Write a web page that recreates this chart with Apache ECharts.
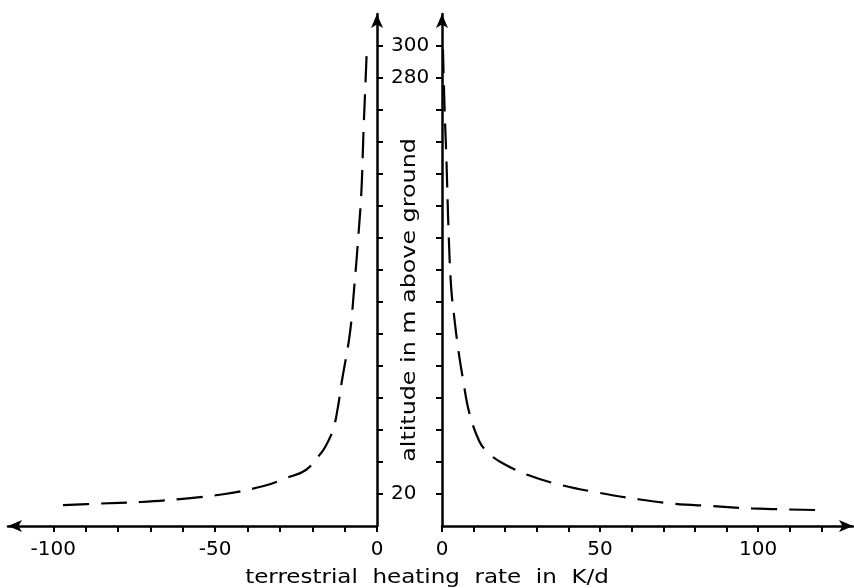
<!DOCTYPE html>
<html>
<head>
<meta charset="utf-8">
<script src="https://cdn.jsdelivr.net/npm/echarts@6/dist/echarts.min.js"></script>
<style>html,body{margin:0;padding:0;background:#fff}#c{width:854px;height:588px}</style>
</head>
<body>
<div id="c"></div>
<script>
// Left panel (negative heating rates)
const leftRate = [-97, -86, -73, -60, -47, -35, -28, -22, -17.5, -16.1, -13.6, -12.1, -10.9, -8.4, -7, -5.8, -4.8, -4.2, -3.6, -3.1];
const leftAlt  = [13, 14, 15, 17, 20, 25, 30, 35, 45, 49, 60, 74, 90, 120, 150, 180, 210, 245, 275, 300];
// Right panel (positive heating rates)
const rightRate = [118, 98, 85, 73, 62, 49, 37.5, 27, 18.5, 14.5, 11.8, 8.6, 6.7, 5.1, 3.9, 2.9, 2.1, 1.4, 0.8, 0.3];
const rightAlt  = [10, 11, 12.5, 14, 16.7, 21, 25.7, 32, 40, 46, 53, 71, 91, 111, 130, 149, 183, 229, 262, 298];
// Ticks and labels
const leftXTicks = [-100, -90, -80, -70, -60, -50, -40, -30, -20, -10, 0];
const leftXLabels = [-100, -50, 0];
const rightXTicks = [0, 10, 20, 30, 40, 50, 60, 70, 80, 90, 100, 110, 120];
const rightXLabels = [0, 50, 100];
const yTicks = [20, 40, 60, 80, 100, 120, 140, 160, 180, 200, 220, 240, 260, 280, 300];
const yLabels = [20, 280, 300];
const xTitle = 'terrestrial  heating  rate  in  K/d';
const yTitle = 'altitude in m above ground';

const FONT = 'DejaVu Sans';
const axisLine = (sym) => ({ show: true, onZero: false, symbol: sym, symbolSize: [9, 14], lineStyle: { color: '#000', width: 2.5 } });
const tick = (vals) => ({ show: true, inside: false, length: 6, lineStyle: { color: '#000', width: 2 }, customValues: vals });
const lbl = (vals, extra) => Object.assign({ customValues: vals, color: '#000', fontSize: 20, fontFamily: FONT }, extra);

const chart = echarts.init(document.getElementById('c'));
chart.setOption({
  animation: false,
  backgroundColor: '#fff',
  grid: [
    { left: 8, right: 477, top: 14, bottom: 62 },
    { left: 442, right: 1, top: 14, bottom: 62 }
  ],
  xAxis: [
    { type: 'value', gridIndex: 0, min: -114, max: 0, position: 'bottom',
      axisLine: axisLine(['arrow', 'none']), axisTick: tick(leftXTicks), splitLine: { show: false },
      axisLabel: lbl(leftXLabels, { margin: 14 }) },
    { type: 'value', gridIndex: 1, min: 0, max: 130, position: 'bottom',
      axisLine: axisLine(['none', 'arrow']), axisTick: tick(rightXTicks), splitLine: { show: false },
      axisLabel: lbl(rightXLabels, { margin: 14 }) }
  ],
  yAxis: [
    { type: 'value', gridIndex: 0, min: 0, max: 320, position: 'right',
      axisLine: axisLine(['none', 'arrow']), axisTick: tick(yTicks), splitLine: { show: false },
      axisLabel: lbl(yLabels, { margin: 14, align: 'left' }) },
    { type: 'value', gridIndex: 1, min: 0, max: 320, position: 'left',
      axisLine: axisLine(['none', 'arrow']), axisTick: tick(yTicks), splitLine: { show: false },
      axisLabel: { show: false } }
  ],
  graphic: [
    { type: 'text', x: 427, y: 578, scaleX: 1.15, style: { text: xTitle, fill: '#000', font: '20px "DejaVu Sans"', align: 'center', verticalAlign: 'middle' } },
    { type: 'text', x: 410, y: 300, rotation: Math.PI / 2, scaleX: 1.19, style: { text: yTitle, fill: '#000', font: '20px "DejaVu Sans"', align: 'center', verticalAlign: 'middle' } }
  ],
  series: [
    { type: 'line', xAxisIndex: 0, yAxisIndex: 0, showSymbol: false, smooth: 0.4,
      data: leftRate.map((v, i) => [v, leftAlt[i]]),
      lineStyle: { color: '#000', width: 2.2, type: [26, 12] } },
    { type: 'line', xAxisIndex: 1, yAxisIndex: 1, showSymbol: false, smooth: 0.4,
      data: rightRate.map((v, i) => [v, rightAlt[i]]),
      lineStyle: { color: '#000', width: 2.2, type: [26, 12] } }
  ]
});
</script>
</body>
</html>
